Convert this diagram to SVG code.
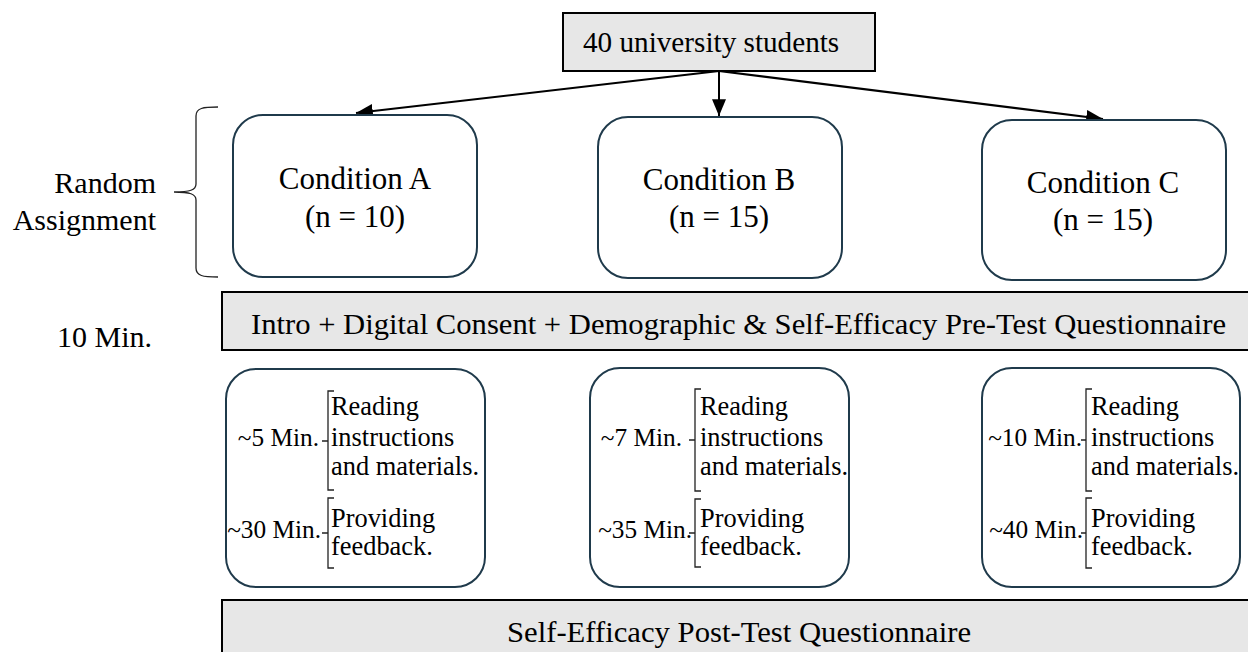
<svg xmlns="http://www.w3.org/2000/svg" width="1248" height="652" viewBox="0 0 1248 652">
  <style>
    text { font-family: "Liberation Serif", "Times New Roman", serif; fill: #000; }
    .big { font-size: 30px; }
    .head { font-size: 29.2px; }
    .cname { font-size: 31px; }
    .small { font-size: 26.4px; }
    .dur { font-size: 25.3px; }
    .bar { fill: #e7e7e7; stroke: #000; stroke-width: 2; }
    .cond { fill: #fff; stroke: #1f3a4b; stroke-width: 2; }
    .edge { stroke: #000; stroke-width: 2; fill: none; }
    .brk { stroke: #222; stroke-width: 1.3; fill: none; }
  </style>
  <defs>
    <marker id="arrow" viewBox="0 0 12 10" refX="12" refY="5" markerWidth="8.5" markerHeight="7" markerUnits="strokeWidth" orient="auto">
      <path d="M0,0 L12,5 L0,10 z" fill="#000"/>
    </marker>
  </defs>

  <rect width="1248" height="652" fill="#fff"/>

  <!-- population -->
  <g id="students">
    <rect class="bar" x="563" y="13" width="312" height="58"/>
    <text class="head" x="583" y="52">40 university students</text>
  </g>

  <!-- random assignment arrows -->
  <g id="connectors">
    <line class="edge" x1="719" y1="71" x2="356" y2="113" marker-end="url(#arrow)"/>
    <line class="edge" x1="719" y1="71" x2="719" y2="116" marker-end="url(#arrow)"/>
    <line class="edge" x1="719" y1="71" x2="1103" y2="119" marker-end="url(#arrow)"/>
  </g>

  <!-- side labels -->
  <g id="random-assignment">
    <text class="big" x="156" y="193" text-anchor="end">Random</text>
    <text class="big" x="156" y="230" text-anchor="end">Assignment</text>
    <path class="brk" d="M218,107 C203,107 196,108 196,116 V184 C196,190 190,192 174,192 C190,192 196,194 196,200 V268 C196,276 203,277 218,277"/>
  </g>
  <text class="big" x="57" y="347">10 Min.</text>

  <!-- conditions -->
  <g id="condition-a">
    <rect class="cond" x="233" y="115" width="244" height="162" rx="30"/>
    <text class="cname" x="355" y="189" text-anchor="middle">Condition A</text>
    <text class="cname" x="355" y="227" text-anchor="middle">(n = 10)</text>
  </g>
  <g id="condition-b">
    <rect class="cond" x="598" y="117" width="244" height="161" rx="30"/>
    <text class="cname" x="719" y="190" text-anchor="middle">Condition B</text>
    <text class="cname" x="719" y="227" text-anchor="middle">(n = 15)</text>
  </g>
  <g id="condition-c">
    <rect class="cond" x="982" y="120" width="244" height="160" rx="30"/>
    <text class="cname" x="1103" y="193" text-anchor="middle">Condition C</text>
    <text class="cname" x="1103" y="230" text-anchor="middle">(n = 15)</text>
  </g>

  <!-- pre-test block -->
  <g id="pre-test">
    <rect class="bar" x="222" y="292" width="1036" height="58"/>
    <text class="big" x="251" y="334" textLength="975" lengthAdjust="spacingAndGlyphs">Intro + Digital Consent + Demographic &amp; Self-Efficacy Pre-Test Questionnaire</text>
  </g>

  <!-- task timing per condition -->
  <g id="tasks-a">
    <rect class="cond" x="226" y="369" width="259" height="218" rx="30"/>
    <text class="dur" x="319" y="446" text-anchor="end">~5 Min.</text>
    <path class="brk" d="M334,391 H328 V441 H322 M328,441 V490 H334"/>
    <text class="small" x="331" y="415">Reading</text>
    <text class="small" x="331" y="446">instructions</text>
    <text class="small" x="331" y="475">and materials.</text>
    <text class="dur" x="321" y="538" text-anchor="end">~30 Min.</text>
    <path class="brk" d="M334,498 H328 V533 H322 M328,533 V568 H334"/>
    <text class="small" x="331" y="527">Providing</text>
    <text class="small" x="331" y="555">feedback.</text>
  </g>
  <g id="tasks-b">
    <rect class="cond" x="590" y="368" width="259" height="219" rx="30"/>
    <text class="dur" x="682" y="446" text-anchor="end">~7 Min.</text>
    <path class="brk" d="M701,389 H695 V440 H689 M695,440 V491 H701"/>
    <text class="small" x="700" y="415">Reading</text>
    <text class="small" x="700" y="446">instructions</text>
    <text class="small" x="700" y="475">and materials.</text>
    <text class="dur" x="692" y="538" text-anchor="end">~35 Min.</text>
    <path class="brk" d="M701,499 H695 V533 H689 M695,533 V567 H701"/>
    <text class="small" x="700" y="527">Providing</text>
    <text class="small" x="700" y="555">feedback.</text>
  </g>
  <g id="tasks-c">
    <rect class="cond" x="982" y="368" width="258" height="219" rx="30"/>
    <text class="dur" x="1082" y="446" text-anchor="end">~10 Min.</text>
    <path class="brk" d="M1092,389 H1086 V440 H1081 M1086,440 V491 H1092"/>
    <text class="small" x="1091" y="415">Reading</text>
    <text class="small" x="1091" y="446">instructions</text>
    <text class="small" x="1091" y="475">and materials.</text>
    <text class="dur" x="1083" y="538" text-anchor="end">~40 Min.</text>
    <path class="brk" d="M1092,498 H1086 V533 H1081 M1086,533 V568 H1092"/>
    <text class="small" x="1091" y="527">Providing</text>
    <text class="small" x="1091" y="555">feedback.</text>
  </g>

  <!-- post-test block -->
  <g id="post-test">
    <rect class="bar" x="222" y="600" width="1036" height="60"/>
    <text class="big" x="507" y="642" textLength="464" lengthAdjust="spacingAndGlyphs">Self-Efficacy Post-Test Questionnaire</text>
  </g>
</svg>
